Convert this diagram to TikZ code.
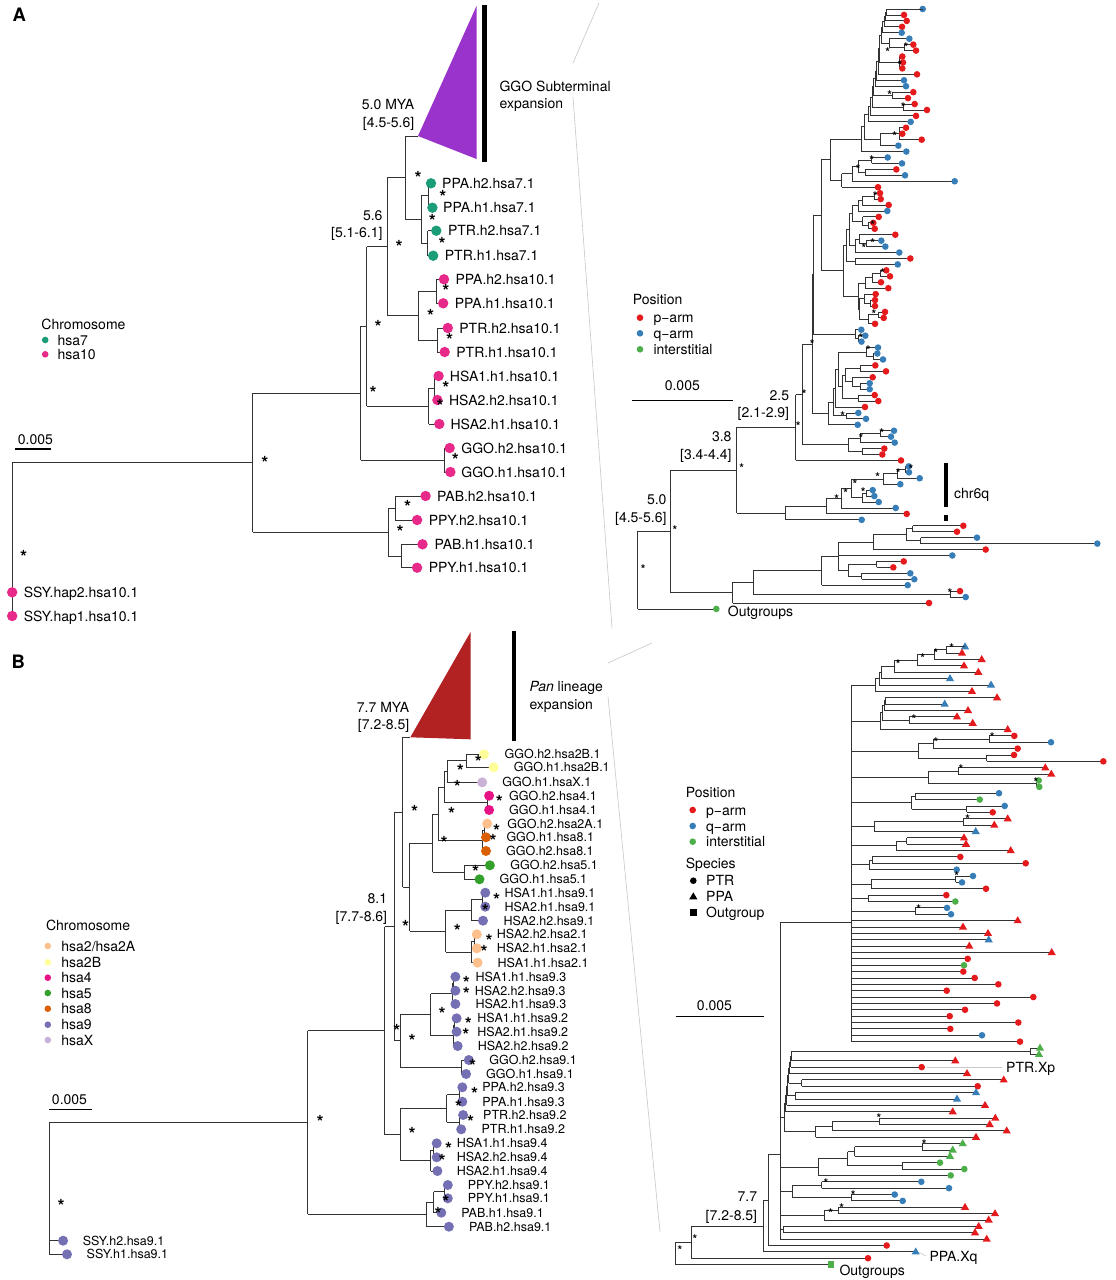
\documentclass[tikz,border=0pt]{standalone}
\usepackage{fontspec}
\setmainfont{TeX Gyre Heros}

\definecolor{csev}{RGB}{27,158,119}
\definecolor{cten}{RGB}{231,41,138}
\definecolor{cpur}{RGB}{153,51,204}
\definecolor{cdred}{RGB}{178,34,34}
\definecolor{ctwoA}{RGB}{253,191,140}
\definecolor{ctwoB}{RGB}{255,255,153}
\definecolor{cfour}{RGB}{231,18,134}
\definecolor{cfive}{RGB}{51,160,44}
\definecolor{ceight}{RGB}{217,95,2}
\definecolor{cnine}{RGB}{117,112,179}
\definecolor{cxx}{RGB}{202,178,214}
\definecolor{parm}{RGB}{228,26,28}
\definecolor{qarm}{RGB}{55,126,184}
\definecolor{inter}{RGB}{77,175,74}

% tip markers
\newcommand\mkrc[1]{\fill[parm] (#1) circle (3.3pt);}
\newcommand\mkbc[1]{\fill[qarm] (#1) circle (3.3pt);}
\newcommand\mkgc[1]{\fill[inter] (#1) circle (3.3pt);}
\newcommand\mkrt[1]{\fill[parm] (#1) ++(0pt,4.4pt) -- ++(-4.1pt,-7pt) -- ++(8.2pt,0pt) -- cycle;}
\newcommand\mkbt[1]{\fill[qarm] (#1) ++(0pt,4.4pt) -- ++(-4.1pt,-7pt) -- ++(8.2pt,0pt) -- cycle;}
\newcommand\mkgt[1]{\fill[inter] (#1) ++(0pt,4.4pt) -- ++(-4.1pt,-7pt) -- ++(8.2pt,0pt) -- cycle;}
\newcommand\mkgs[1]{\fill[inter] (#1) ++(-3.4pt,-3.4pt) rectangle ++(6.8pt,6.8pt);}
\newcommand\mknn[1]{}
% branches
\newcommand\leaf[4]{\draw[br] (#1,#3) -- (#2,#3); \csname mk#4\endcsname{#2,#3}}
\newcommand\cnode[5]{\draw[br] (#1,#2) -- (#1,#3) (#4,#5) -- (#1,#5);}
\newcommand\ladder[4]{%
  \xdef\ladm{#1}\xdef\ladx{#2}%
  \csname mk#3\endcsname{#2,#1}%
  \foreach \lnx/\lny/\lne/\lnc in {#4}{%
    \draw[br] (\ladx,\ladm) -- (\lnx,\ladm) -- (\lnx,\lny) -- (\lne,\lny);
    \csname mk\lnc\endcsname{\lne,\lny}%
    \pgfmathsetmacro\ladt{(\ladm+\lny)/2}\xdef\ladm{\ladt}\xdef\ladx{\lnx}%
  }}

\tikzset{
  br/.style={line width=0.85pt, black!80},
  lbl/.style={anchor=west, inner sep=0pt, text height=10pt, text depth=0pt, font=\fontsize{14}{16}\selectfont},
  lblr/.style={lbl, anchor=east},
  sml/.style={lbl, text height=9pt, font=\fontsize{12.5}{14}\selectfont},
  astL/.style={inner sep=0pt, font=\bfseries\fontsize{18}{18}\selectfont, yshift=-4pt},
  astS/.style={inner sep=0pt, font=\bfseries\fontsize{12}{12}\selectfont, yshift=-2.7pt},
  zoomln/.style={line width=0.6pt, black!22},
  bar/.style={line width=4.5pt},
  panel/.style={inner sep=0pt, font=\bfseries\fontsize{18.5}{20}\selectfont},
}

\begin{document}
\begin{tikzpicture}[x=1pt, y=-1pt]
\useasboundingbox (0,0) rectangle (1116,1280);
\fill[white] (0,0) rectangle (1116,1280);

%zoom lines
\draw[zoomln] (573,63) -- (599,3);
\draw[zoomln] (573,97) -- (612,628);
\draw[zoomln] (608,663) -- (652,643);
\draw[zoomln] (608,697) -- (660,1232);

%%%%%%%%%% A, left tree
\node[panel] (pA) at (19.3,15) {A};
\fill[cpur] (418,136) -- (476.5,6) -- (476.5,159) -- cycle;
\draw[bar] (484.5,5) -- (484.5,162);
\node[lbl] (subA) at (499.4,86.7) {GGO Subterminal};
\node[lbl] (subB) at (499.4,103.3) {expansion};
\node[lblr] (myaA) at (414.5,104.3) {5.0 MYA};
\node[lblr] (ciA) at (414.5,122.3) {[4.5-5.6]};
\node[lblr] (ageA) at (382.7,215) {5.6};
\node[lblr] (ciAb) at (382.7,232.3) {[5.1-6.1]};
\draw[br] (405,136) -- (418,136);
\foreach \qa/\qb/\qc/\qd/\qe in {428/183.3/207.7/421/195.5, 427.9/230.7/255.7/421/243.2,
  421/195.5/243.2/405/219.35, 405/136/219.35/387.3/177.7, 436.3/279.3/303.3/418.3/291.3,
  437.4/328/352/418.3/340, 418.3/291.3/340/387.3/315.65, 387.3/177.7/315.65/366.6/246.7,
  434.4/376/400/428.6/388, 428.6/388/424/366.6/406, 366.6/246.7/406/360.9/326.35,
  444/448/472/360.9/460, 360.9/326.35/460/252.6/393.2, 395.3/496/520/388.4/508,
  401/544.3/567.7/388.4/556, 388.4/508/556/252.6/532, 252.6/393.2/532/12.2/462.6}
  {\cnode{\qa}{\qb}{\qc}{\qd}{\qe}}
\draw[br] (12.2,462.6) -- (12.2,616);
\foreach \ux/\udx/\uy/\ucol/\ulx/\utxt [count=\i] in {
  428/431/183.3/csev/442/PPA.h2.hsa7.1, 428/432.4/207.7/csev/443/PPA.h1.hsa7.1,
  427.9/436.3/230.7/csev/447.8/PTR.h2.hsa7.1, 427.9/433.2/255.7/csev/444.7/PTR.h1.hsa7.1,
  436.3/444/279.3/cten/455.4/PPA.h2.hsa10.1, 436.3/443.2/303.3/cten/454.6/PPA.h1.hsa10.1,
  437.4/447.8/328/cten/459.2/PTR.h2.hsa10.1, 437.4/444.7/352/cten/456.2/PTR.h1.hsa10.1,
  434.4/438.6/376/cten/449.7/HSA1.h1.hsa10.1, 434.4/437.4/400/cten/448.9/HSA2.h2.hsa10.1,
  428.6/439.3/424/cten/450.4/HSA2.h1.hsa10.1, 444/449.7/448/cten/461.2/GGO.h2.hsa10.1,
  444/450.4/472/cten/461.2/GGO.h1.hsa10.1, 395.3/425.6/496/cten/437/PAB.h2.hsa10.1,
  395.3/417.1/520/cten/428.6/PPY.h2.hsa10.1, 401/422.5/544.3/cten/434.4/PAB.h1.hsa10.1,
  401/417.1/567.7/cten/428.6/PPY.h1.hsa10.1, 12.2/12.2/592.3/cten/23.7/SSY.hap2.hsa10.1,
  12.2/12.2/616/cten/23.7/SSY.hap1.hsa10.1}{
  \draw[br] (\ux,\uy) -- (\udx,\uy);
  \fill[\ucol] (\udx,\uy) circle (5.2pt);
  \node[lbl] (atip\i) at (\ulx,\uy) {\utxt};}
\foreach \qa/\qb [count=\i] in {418/174, 442.8/192.7, 432.4/216.7, 442/240, 399/243.3,
  445.8/287.3, 430.5/311.7, 449.7/335.7, 378/322.7, 373.1/389.3, 445.8/384.3, 440/401.7,
  455.4/455.7, 264.8/459.3, 407.6/503.3, 400/528.3, 23.7/553.3}
  {\node[astL] (aast\i) at (\qa,\qb) {*};}
%legend
\node[lbl] (chrA) at (41.3,324) {Chromosome};
\fill[csev] (45.2,340) circle (3.3pt);
\node[lbl] (keyseven) at (57.4,340) {hsa7};
\fill[cten] (45.2,354.3) circle (3.3pt);
\node[lbl] (keyten) at (57.4,354.3) {hsa10};
\node[lbl, anchor=center] (scA) at (35.4,439.3) {0.005};
\draw[line width=1.2pt] (15.3,449) -- (50.5,449);

%%%%%%%%%% A, right tree
\begin{scope}[y=-5.94pt, yshift=-3.06pt]
\ladder{1}{922.7}{bc}{886/2/904/rc, 885/3/906.7/rc, 884/4/902/rc, 882.5/5/901.7/bc,
  881/6.75/889/nn, 879.5/10/899/nn, 878/12/917/rc, 876.5/13/904/bc, 875/14/906/bc,
  873.5/15.5/892/nn, 872/17.5/903/nn, 870/19/916/rc, 868/20/910.7/bc}
\draw[br] (864,\ladm) -- (\ladx,\ladm);
\foreach \qa/\qb/\qc/\qd/\qe in {904/7/8/889/7.5, 889/6/7.5/889/6.75, 899/9/11/899/10,
  892/15/16/892/15.5, 903/17/18/903/17.5, 899.3/21/23/880/22, 880/22/24/864/23,
  864/18.7/23/861/20.85, 861/20.85/25/830.7/22.93, 871.7/26/27/858.3/26.5,
  865/28/29/858.3/28.5, 858.3/26.5/28.5/852.3/27.5, 852.3/27.5/30/841.7/28.75,
  841.7/28.75/31/830.7/29.88, 830.7/22.93/29.88/821/26.4, 874/32/33/862/32.5,
  862/32.5/34/858/33.25, 858/33.25/35/852/34.13, 868/37/38/862.5/37.5,
  862.5/36/37.5/852/36.75, 852/34.13/36.75/849/35.44, 866/40/41/859/40.5,
  859/39/40.5/855.5/39.75, 855.5/39.75/42/849/40.88, 849/35.44/40.88/846/38.16,
  855/43/44/846/43.5, 846/38.16/43.5/843.3/40.83, 880/45/46/872/45.5,
  872/45.5/47/865/46.25, 865/46.25/48/858/47.13, 870/50/51/864/50.5,
  864/49/50.5/859/49.75, 878/52/53/868/52.5, 868/52.5/54/859/53.25,
  859/49.75/53.25/858/51.5, 858/47.13/51.5/843.3/49.31, 843.3/40.83/49.31/821/45.07,
  821/26.4/45.07/813.3/35.74, 858/56/57/855/56.5, 855/55/56.5/813.3/55.75,
  813.3/35.74/55.75/812/45.75, 873/59/60/866/59.5, 866/58/59.5/838/58.75,
  860/61/62/845/61.5, 860/64/65/852/64.5, 852/63/64.5/845/63.75, 845/61.5/63.75/842/62.63,
  858/66/67/842/66.5, 842/62.63/66.5/838/64.56, 838/58.75/64.56/835/61.66,
  835/61.66/68/833/64.83, 846/69/70/833/69.5, 833/64.83/69.5/828.3/67.17,
  828.3/67.17/71/812/69.08, 812/45.75/69.08/802.7/57.42, 880/72/73/860/72.5,
  860/72.5/74/848.3/73.25, 862/75/76/848.3/75.5, 848.3/73.25/75.5/802.7/74.38,
  802.7/57.42/74.38/795.7/65.9, 795.7/65.9/77/736.7/71.45, 905/78/79/897/78.5,
  897/78.5/80/883/79.25, 883/79.25/81/851/80.13, 866/82/83/862/82.5, 862/82.5/84/851/83.25,
  851/80.13/83.25/841/81.69, 841/81.69/85/826/83.34, 826/83.34/86/785.7/84.67,
  785.7/84.67/87/736.7/85.84, 736.7/71.45/85.84/670.7/78.64, 912.7/88/89/906/88.5,
  920.7/90/91/906/90.5, 906/88.5/90.5/873.3/89.5, 873.3/89.5/92/838.3/90.75,
  876.7/94/95/848.3/94.5, 861.7/96/97/848.3/96.5, 848.3/94.5/96.5/838.3/95.5,
  838.3/90.75/95.5/821.7/93.08, 821.7/93.08/98/753.3/95.54, 950/99/100/753.3/99.5,
  753.3/95.54/99.5/732.7/97.52, 732.7/97.52/101/670.7/99.26, 670.7/78.64/99.26/637.7/88.95}
  {\cnode{\qa}{\qb}{\qc}{\qd}{\qe}}
\draw[br] (637.7,88.95) -- (637.7,102);
\foreach \qa/\qb/\qc/\qd in {889/909.3/6/bc, 904/913.3/7/rc, 904/916/8/rc, 899/902.3/9/rc,
  899/903/10/rc, 899/902.3/11/rc, 892/913.3/15/rc, 892/908/16/rc, 903/914.7/17/rc,
  903/927/18/rc, 899.3/906/21/rc, 899.3/902.3/22/rc, 899.3/921.7/23/rc, 880/898.3/24/bc,
  861/906.3/25/bc, 871.7/887.7/26/bc, 871.7/902/27/bc, 865/896.3/28/rc, 865/905/29/bc,
  852.3/954.7/30/bc, 841.7/878/31/rc, 874/880/32/rc, 874/880.7/33/rc, 862/888.7/34/rc,
  858/887.3/35/bc, 862.5/878.7/36/rc, 868/873.3/37/rc, 868/874.7/38/rc, 859/895.3/39/rc,
  866/881.3/40/bc, 866/885.3/41/bc, 855.5/899.3/42/bc, 855/910.3/43/rc, 855/897.7/44/bc,
  880/886.3/45/rc, 880/890/46/rc, 872/881/47/rc, 865/888.3/48/rc, 864/875.7/49/rc,
  870/875/50/rc, 870/875/51/rc, 878/885/52/rc, 878/883.7/53/rc, 868/875/54/rc,
  855/861.3/55/bc, 858/865.3/56/bc, 858/861.5/57/bc, 866/878/58/bc, 873/877.3/59/bc,
  873/883/60/bc, 860/875.3/61/rc, 860/886/62/rc, 852/872.7/63/rc, 860/869.7/64/bc,
  860/869.7/65/bc, 858/874.7/66/rc, 858/878.3/67/rc, 835/865/68/rc, 846/858.3/69/bc,
  846/866/70/bc, 828.3/857.7/71/bc, 880/894/72/bc, 880/891/73/bc, 860/894.7/74/bc,
  862/884.3/75/rc, 862/882.3/76/rc, 795.7/901/77/rc, 905/908.7/78/bc, 905/909/79/bc,
  897/919.7/80/bc, 883/900.3/81/bc, 866/872.7/82/bc, 866/874.3/83/bc, 862/878.7/84/bc,
  841/895.7/85/bc, 826/906.7/86/rc, 785.7/861.7/87/bc, 912.7/963.3/88/rc, 912.7/957/89/rc,
  920.7/977/90/bc, 920.7/1097.3/91/bc, 873.3/985.7/92/rc, 838.3/952.3/93/bc,
  876.7/903.7/94/rc, 876.7/893.3/95/rc, 861.7/910.3/96/bc, 861.7/914.3/97/bc,
  821.7/907.7/98/bc, 950/960/99/rc, 950/965.7/100/bc, 732.7/929/101/rc, 637.7/716.3/102/gc}
  {\leaf{\qa}{\qb}{\qc}{\qd}}
\end{scope}
\foreach \qa/\qb [count=\i] in {887.7/49, 906/44.3, 900/62.3, 889.7/92, 903.3/104, 894.7/133.7,
  871.7/157.3, 858.3/166.7, 875.3/193, 872.7/222.7, 872.7/240.3, 864/245, 882.7/270,
  874/311.7, 861/335, 868.3/347.3, 842.7/413.3, 812.3/341.7, 804.3/391.7, 798.3/423.3,
  741.7/465.7, 675/527.7, 643.3/566, 881.7/430, 861/435, 911/466, 898.3/470, 877.7/474.3,
  855/481.7, 845.7/490, 863.3/489.3, 836.7/496.7, 950/590.7}
  {\node[astS] (rast\i) at (\qa,\qb) {*};}
\node[lbl] (posA) at (632.7,299) {Position};
\fill[parm] (640,317.7) circle (3.3pt);
\node[lbl] (parmA) at (653.3,317.7) {p−arm};
\fill[qarm] (640,333.3) circle (3.3pt);
\node[lbl] (qarmA) at (653.3,333.3) {q−arm};
\fill[inter] (640,349.3) circle (3.3pt);
\node[lbl] (intA) at (653.3,349.3) {interstitial};
\node[lbl, anchor=center] (scAr) at (682.3,385) {0.005};
\draw[line width=1.2pt] (631.7,400.7) -- (732.7,400.7);
\node[lblr] (ageAa) at (789.3,395) {2.5};
\node[lblr] (ciAa) at (789.3,412.3) {[2.1-2.9]};
\node[lblr] (ageAc) at (731.7,436.7) {3.8};
\node[lblr] (ciAc) at (731.7,454) {[3.4-4.4]};
\node[lblr] (ageAd) at (666.7,499.3) {5.0};
\node[lblr] (ciAd) at (666.7,517.3) {[4.5-5.6]};
\node[lbl] (outA) at (727.7,611.7) {Outgroups};
\draw[bar] (946,463.3) -- (946,507.3);
\draw[bar] (946,515) -- (946,520.7);
\node[lbl] (chrsix) at (954,493.3) {chr6q};

%%%%%%%%%% B, left tree
\node[panel] (pB) at (18.4,661.7) {B};
\fill[cdred] (410.3,737.3) -- (470.7,631.7) -- (470.7,739.3) -- cycle;
\draw[bar] (514,631) -- (514,741);
\node[lbl] (panA) at (529.3,686.7) {\textit{Pan} lineage};
\node[lbl] (panB) at (529.3,704) {expansion};
\node[lblr] (myaB) at (409.5,707.3) {7.7 MYA};
\node[lblr] (ciB) at (409.5,724.3) {[7.2-8.5]};
\node[lblr] (ageB) at (387.3,898.3) {8.1};
\node[lblr] (ciBb) at (387.3,916) {[7.7-8.6]};
\draw[br] (402.6,737.3) -- (410.3,737.3);
\foreach \qa/\qb/\qc/\qd/\qe in {466.1/754.3/767.3/447/760.8, 447/760.8/782.3/444/771.55,
  487/795.7/810/444/802.85, 444/771.55/802.85/438.2/787.2, 484/823.7/837.3/482/830.5,
  482/830.5/851/438.2/840.75, 438.2/787.2/840.75/432.5/813.98, 464.2/865.3/879.3/432.5/872.3,
  432.5/813.98/872.3/409.5/843.14, 482/892.7/906.7/471/899.7, 471/899.7/920.7/445.8/910.2,
  474.5/934.3/948.3/471/941.3, 471/941.3/962.7/445.8/952, 445.8/910.2/952/409.5/931.1,
  409.5/843.14/931.1/402.6/887.12, 402.6/737.3/887.12/394.2/812.21,
  453.5/976.7/990.7/452/983.7, 452/983.7/1004/430.5/993.85, 454.5/1018.3/1031.7/453/1025,
  453/1025/1046/430.5/1035.5, 430.5/993.85/1035.5/400/1014.68, 461.2/1060/1074/400/1067,
  400/1014.68/1067/394.2/1040.84, 394.2/812.21/1040.84/384.6/926.5,
  459.2/1087.3/1101.7/446.6/1094.5, 459.2/1115/1129.3/446.6/1122.15,
  446.6/1094.5/1122.15/400/1108.33, 433/1143.3/1157.3/430.5/1150.3,
  430.5/1150.3/1171/400/1160.65, 400/1108.33/1160.65/384.6/1134.49,
  384.6/926.5/1134.49/307.7/1030.5, 444.5/1185/1198.3/433.6/1191.65,
  433.6/1191.65/1212.7/426/1202.18, 426/1202.18/1226.7/307.7/1214.44,
  307.7/1030.5/1214.44/49/1122.47}
  {\cnode{\qa}{\qb}{\qc}{\qd}{\qe}}
\draw[br] (49,1122.47) -- (49,1254.3);
\foreach \ux/\udx/\uy/\ucol/\ulx/\utxt [count=\i] in {
  466.1/484.1/754.3/ctwoB/504.4/GGO.h2.hsa2B.1, 466.1/493.7/767.3/ctwoB/513.6/GGO.h1.hsa2B.1,
  447/482.2/782.3/cxx/502.1/GGO.h1.hsaX.1, 487/489.1/795.7/cfour/509/GGO.h2.hsa4.1,
  487/489.1/810/cfour/509/GGO.h1.hsa4.1, 484/487.2/823.7/ctwoA/507.1/GGO.h2.hsa2A.1,
  484/486/837.3/ceight/506.3/GGO.h1.hsa8.1, 482/486/851/ceight/505.9/GGO.h2.hsa8.1,
  464.2/489.9/865.3/cfive/510.1/GGO.h2.hsa5.1, 464.2/479.5/879.3/cfive/499.4/GGO.h1.hsa5.1,
  482/485.3/892.7/cnine/504.4/HSA1.h1.hsa9.1, 482/485.3/906.7/cnine/504.4/HSA2.h1.hsa9.1,
  471/483/920.7/cnine/503.3/HSA2.h2.hsa9.1, 474.5/476.8/934.3/ctwoA/496.7/HSA2.h2.hsa2.1,
  474.5/476.8/948.3/ctwoA/496.7/HSA2.h1.hsa2.1, 471/477.6/962.7/ctwoA/497.5/HSA1.h1.hsa2.1,
  453.5/455.4/976.7/cnine/475.3/HSA1.h1.hsa9.3, 453.5/455.4/990.7/cnine/474.6/HSA2.h2.hsa9.3,
  452/455.4/1004/cnine/475.3/HSA2.h1.hsa9.3, 454.5/456.6/1018.3/cnine/477.2/HSA1.h1.hsa9.2,
  454.5/456.6/1031.7/cnine/477.2/HSA2.h1.hsa9.2, 453/457.7/1046/cnine/477.6/HSA2.h2.hsa9.2,
  461.2/468.8/1060/cnine/489.1/GGO.h2.hsa9.1, 461.2/466.1/1074/cnine/486/GGO.h1.hsa9.1,
  459.2/462.3/1087.3/cnine/482.2/PPA.h2.hsa9.3, 459.2/462.3/1101.7/cnine/482.2/PPA.h1.hsa9.3,
  459.2/463.1/1115/cnine/483/PTR.h2.hsa9.2, 459.2/461.2/1129.3/cnine/481.4/PTR.h1.hsa9.2,
  433/436.7/1143.3/cnine/456.6/HSA1.h1.hsa9.4, 433/436.7/1157.3/cnine/456.6/HSA2.h2.hsa9.4,
  430.5/437.4/1171/cnine/456.6/HSA2.h1.hsa9.4, 444.5/447.8/1185/cnine/467.7/PPY.h2.hsa9.1,
  444.5/447.8/1198.3/cnine/467.7/PPY.h1.hsa9.1, 433.6/441.3/1212.7/cnine/461.2/PAB.h1.hsa9.1,
  426/448.9/1226.7/cnine/468.8/PAB.h2.hsa9.1, 49/63.1/1240.7/cnine/82.7/SSY.h2.hsa9.1,
  49/67/1254.3/cnine/86.5/SSY.h1.hsa9.1}{
  \draw[br] (\ux,\uy) -- (\udx,\uy);
  \fill[\ucol] (\udx,\uy) circle (5pt);
  \node[sml] (btip\i) at (\ulx,\uy) {\utxt};}
\foreach \qa/\qb [count=\i] in {478.4/757.7, 460.4/767.3, 457.3/783.3, 499.4/798.3, 451.6/810,
  496.7/826.7, 493.2/837.3, 444/839, 475.7/868.3, 414.5/808.3, 496.7/895.7, 485.3/906.7,
  457.3/926.7, 489.1/936.7, 484.1/948.3, 405.7/922.7, 466.4/979.3, 466.4/990, 442/1010,
  468.3/1020, 465.8/1031, 396.9/1027.3, 412.2/1037.3, 472.6/1062.3, 474.6/1090, 458.5/1103.3,
  470.7/1118.3, 412.2/1130, 448.5/1145, 442/1156.7, 445.8/1198.3, 438.2/1210, 320/1118.3,
  61.2/1201.7}
  {\node[astL] (bast\i) at (\qa,\qb) {*};}
%legend
\node[lbl] (chrB) at (45.9,925) {Chromosome};
\foreach \qa/\qb/\qc [count=\i] in {946/ctwoA/{hsa2/hsa2A}, 962.3/ctwoB/hsa2B, 977.7/cfour/hsa4,
  993/cfive/hsa5, 1008.7/ceight/hsa8, 1024.7/cnine/hsa9, 1040/cxx/hsaX}{
  \fill[\qb] (47.8,\qa) circle (3.3pt);
  \node[lbl] (keyB\i) at (61.2,\qa) {\qc};}
\node[lbl, anchor=center] (scB) at (69.5,1099) {0.005};
\draw[line width=1.2pt] (49,1109.3) -- (92.2,1109.3);

%%%%%%%%%% B, right tree
\begin{scope}[y=-6.37pt, yshift=-640.33pt]
\ladder{1}{965}{bt}{946.7/2/962/rt, 934.3/3/981.7/rt, 917.3/4/964/rt, 894.3/5/978.3/rt,
  881.7/6/950/bt, 879.3/7/991/bt, 875.7/8/972/rt}
\draw[br] (851,\ladm) -- (\ladx,\ladm);
\foreach \qa/\qb/\qc/\qd/\qe in {885/9/10/884/9.5, 884/9.5/11/882/10.25, 909.3/12/13/882/12.5,
  882/10.25/12.5/880/11.38, 880/11.38/14/851/12.69, 989.3/15/16/933.7/15.5,
  933.7/15.5/17/918.3/16.25, 986.7/18/19/918.3/18.5, 918.3/16.25/18.5/851/17.38,
  958.3/20/21/928.3/20.5, 1036/22/23/928.3/22.5, 928.3/20.5/22.5/851/21.5,
  915.3/24/25/911.7/24.5, 966.7/26/27/911.7/26.5, 911.7/24.5/26.5/851/25.5,
  963.3/28/29/874.3/28.5, 874.3/28.5/30/851/29.25, 906.7/31/32/896/31.5,
  896/31.5/33/851/32.25, 872/34/35/869.3/34.5, 869.3/34.5/36/851/35.25,
  955.7/37/38/871.7/37.5, 871.7/37.5/39/851/38.25, 868.7/40/41/851/40.5,
  915.3/42/43/851/42.5, 851/7.01/63/780/44.26, 1030/64/65/791.7/64.5,
  791.7/64.5/66/790.5/65.25, 790.5/65.25/67/789.5/66.13, 789.5/66.13/68/788.5/67.06,
  801.7/69/70/788.5/69.5, 788.5/67.06/69.5/787.5/68.28, 795/71/72/787.5/71.5,
  787.5/68.28/71.5/786.5/69.89, 786.5/69.89/73/785.5/71.45, 785.5/71.45/74/784/72.72,
  879/75/76/832/75.5, 832/75.5/77/815.7/76.25, 815.7/76.25/78/784/77.13,
  784/72.72/77.13/780/74.92, 922.3/79/80/854.7/79.5, 854.7/79.5/81/847.7/80.25,
  902/82/83/847.7/82.5, 847.7/80.25/82.5/818.3/81.38, 818.3/81.38/84/780/82.69,
  821.7/85/86/792.7/85.5, 851/87/88/792.7/87.5, 792.7/85.5/87.5/780/86.5,
  838.7/89/90/824.3/89.5, 824.3/89.5/91/780/90.25, 783.3/92/93/780/92.5,
  780/44.26/94/768.3/80.73, 768.3/80.73/95/763.3/87.87, 763.3/87.87/96/691/91.93,
  691/91.93/97/675/94.47}
  {\cnode{\qa}{\qb}{\qc}{\qd}{\qe}}
\draw[br] (675,94.47) -- (675,98);
\foreach \qa/\qb/\qc/\qd in {885/997/9/rt, 885/944.7/10/bt, 884/968/11/rt, 909.3/957/12/rt,
  909.3/972.7/13/rt, 880/1007.7/14/rt, 989.3/1014.3/15/rc, 989.3/1051/16/bc,
  933.7/1017.7/17/rc, 986.7/1014/18/rc, 986.7/1103.3/19/rc, 958.3/1045.3/20/rt,
  958.3/1051.3/21/rt, 1036/1038.7/22/gc, 1036/1039.3/23/gc, 915.3/999/24/bc,
  915.3/979.7/25/gc, 966.7/1004.7/26/bc, 966.7/992.7/27/rc, 963.3/1007.7/28/rt,
  963.3/994.3/29/rt, 874.3/975.7/30/bt, 906.7/964/31/rt, 906.7/966/32/rt, 896/1010.7/33/rt,
  872/960.3/34/rc, 872/1025.7/35/rc, 869.3/956.7/36/bc, 955.7/973/37/bc, 955.7/962/38/bc,
  871.7/986/39/rc, 868.7/946.3/40/rc, 868.7/955.3/41/gc, 915.3/947/42/bc, 915.3/951/43/bc,
  851/1017.7/44/rt, 851/963/45/rt, 851/988/46/rt, 851/988.7/47/bt, 851/969.3/48/rt,
  851/1051.7/49/rt, 851/967.7/50/rc, 851/964/51/gc, 851/963.3/52/rc, 851/974.7/53/rc,
  851/998.3/54/rc, 851/946.7/55/rc, 851/1033.3/56/rc, 851/997/57/rc, 851/965/58/rc,
  851/949.7/59/rc, 851/1018.3/60/rc, 851/950.3/61/rc, 851/982/62/bc, 851/1020/63/rc,
  1030/1040/64/gt, 1030/1039/65/gt, 791.7/955.3/66/rt, 790.5/921.7/67/rc, 789.5/967/68/rt,
  801.7/1003.7/69/rt, 801.7/977.7/70/rc, 795/976/71/bt, 795/957/72/bt, 786.5/985/73/rt,
  785.5/952.7/74/rt, 879/995.3/75/rt, 879/989.7/76/rt, 832/1006.7/77/rt, 815.7/976/78/rt,
  922.3/962.7/79/gt, 922.3/952.7/80/gt, 854.7/950/81/gt, 902/940/82/gc, 902/964.3/83/gc,
  818.3/950.7/84/gc, 821.7/921.3/85/bc, 821.7/949/86/bc, 851/894.7/87/bc, 851/902.7/88/bc,
  838.7/965/89/rt, 838.7/995/90/rt, 824.3/988.7/91/rt, 783.3/978.7/92/rt, 783.3/975/93/rt,
  780/986.7/94/rt, 768.3/886.7/95/rc, 763.3/915.7/96/bt, 691/868/97/rc, 675/831/98/gs}
  {\leaf{\qa}{\qb}{\qc}{\qd}}
\end{scope}
\foreach \qa/\qb [count=\i] in {951.7/645, 936/650, 922.7/655, 898.3/661, 914/716, 992.3/734.3,
  936/739.3, 961/766, 1036/779, 967.7/816.7, 956.7/873.3, 918.7/906, 879/1115.7, 924.3/1141.7,
  826/1180, 853.3/1192.3, 830.7/1210, 841.7/1205, 695/1236.7, 680/1247.7}
  {\node[astS] (sast\i) at (\qa,\qb) {*};}
\draw[zoomln] (926.7,1067.7) -- (1001.7,1067.7);
\node[lbl] (ptrxp) at (1006,1067.7) {PTR.Xp};
\draw[zoomln] (919,1252.5) -- (926,1256);
\node[lbl] (ppaxq) at (929.3,1256) {PPA.Xq};
\node[lbl] (outB) at (839.3,1270.7) {Outgroups};
\node[lblr] (ageBr) at (757.3,1196.7) {7.7};
\node[lblr] (ciBr) at (757.3,1215) {[7.2-8.5]};
\node[lbl, anchor=center] (scBr) at (714.5,1005) {0.005};
\draw[line width=1.2pt] (675.7,1016.7) -- (764.3,1016.7);
%legend
\node[lbl] (posB) at (685.7,792.3) {Position};
\fill[parm] (692.7,810) circle (3.3pt);
\node[lbl] (parmB) at (706,810) {p−arm};
\fill[qarm] (692.7,826) circle (3.3pt);
\node[lbl] (qarmB) at (706,826) {q−arm};
\fill[inter] (692.7,841.7) circle (3.3pt);
\node[lbl] (intB) at (706,841.7) {interstitial};
\node[lbl] (spB) at (685.7,863.3) {Species};
\fill (693.3,880.7) circle (3.3pt);
\node[lbl] (ptrB) at (706,880.7) {PTR};
\fill (693.3,896.7) ++(0pt,4.4pt) -- ++(-4.1pt,-7pt) -- ++(8.2pt,0pt) -- cycle;
\node[lbl] (ppaB) at (706,896.7) {PPA};
\fill (693.3,912.7) ++(-3.4pt,-3.4pt) rectangle ++(6.8pt,6.8pt);
\node[lbl] (ogB) at (706,912.7) {Outgroup};
\end{tikzpicture}
\end{document}
